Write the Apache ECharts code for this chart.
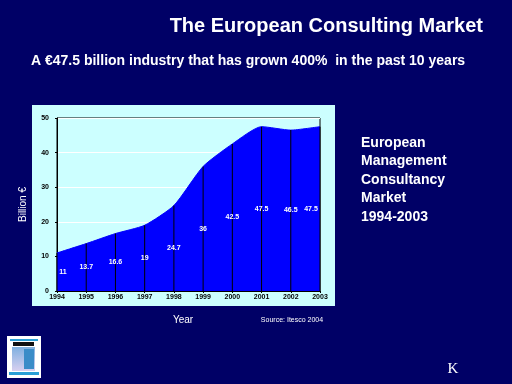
<!DOCTYPE html>
<html>
<head>
<meta charset="utf-8">
<script src="https://cdn.jsdelivr.net/npm/echarts@6/dist/echarts.min.js"></script>
<style>
html,body{margin:0;padding:0;background:#000066;}
#c{width:512px;height:384px;}
</style>
</head>
<body>
<div id="c"></div>
<script>
var years = ['1994','1995','1996','1997','1998','1999','2000','2001','2002','2003'];
var values = [11, 13.7, 16.6, 19, 24.7, 36, 42.5, 47.5, 46.5, 47.5];
var yTicks = [0, 10, 20, 30, 40, 50];
var sideLines = ['European', 'Management', 'Consultancy', 'Market', '1994-2003'];

var chart = echarts.init(document.getElementById('c'), null, {renderer:'canvas'});
var graphics = [
  {type:'rect', z:-10, shape:{x:32, y:105, width:303, height:201}, style:{fill:'#CCFFFF'}},
  {type:'text', x:483, y:26, style:{text:'The European Consulting Market', fill:'#fff', font:'bold 20px Arial', textAlign:'right', textVerticalAlign:'middle'}},
  {type:'text', x:31, y:61, style:{text:'A \u20ac47.5 billion industry that has grown 400%  in the past 10 years', fill:'#fff', font:'bold 14px Arial', textAlign:'left', textVerticalAlign:'middle'}},
  {type:'text', x:183, y:320, style:{text:'Year', fill:'#fff', font:'10px Arial', textAlign:'center', textVerticalAlign:'middle'}},
  {type:'text', x:292, y:320, style:{text:'Source: Itesco 2004', fill:'#fff', font:'7px Arial', textAlign:'center', textVerticalAlign:'middle'}},
  {type:'text', x:453, y:369, style:{text:'K', fill:'#fff', font:'15px "Liberation Serif"', textAlign:'center', textVerticalAlign:'middle'}},
  // logo
  {type:'rect', shape:{x:7, y:336, width:34, height:42}, style:{fill:'#ffffff'}},
  {type:'rect', shape:{x:10, y:339, width:28, height:2}, style:{fill:'#2a9fd6'}},
  {type:'rect', shape:{x:13, y:342, width:21, height:4}, style:{fill:'#111111'}},
  {type:'rect', shape:{x:12, y:347, width:23, height:24}, style:{fill:{type:'linear',x:0,y:0,x2:0,y2:1,colorStops:[{offset:0,color:'#7fb0e0'},{offset:1,color:'#d8d0f0'}]}}},
  {type:'rect', shape:{x:24, y:349, width:10, height:20}, style:{fill:'#3a8cc8'}},
  {type:'rect', shape:{x:9, y:372, width:30, height:3}, style:{fill:'#2a9fd6'}}
];
sideLines.forEach(function(t, i){
  graphics.push({type:'text', x:361, y:143 + i*18.5, style:{text:t, fill:'#fff', font:'bold 14px Arial', textAlign:'left', textVerticalAlign:'middle'}});
});

var last = values.length - 1;
chart.setOption({
  backgroundColor:'#000066',
  animation:false,
  grid:{left:57, right:192, top:118, bottom:93, show:true, borderColor:'#000', borderWidth:1, backgroundColor:'transparent'},
  xAxis:{type:'category', data:years, boundaryGap:false,
    axisLine:{lineStyle:{color:'#000', width:1}},
    axisTick:{show:true, length:2, lineStyle:{color:'#000'}},
    axisLabel:{color:'#000', fontSize:7, fontWeight:'bold', margin:3, interval:0},
    splitLine:{show:false}},
  yAxis:{type:'value', min:yTicks[0], max:yTicks[yTicks.length-1], interval:10,
    name:'Billion \u20ac', nameLocation:'middle', nameGap:29, nameTextStyle:{color:'#fff', fontSize:10, fontFamily:'Arial'},
    axisLine:{show:true, lineStyle:{color:'#000'}},
    axisTick:{show:true, length:2, lineStyle:{color:'#000'}},
    axisLabel:{color:'#000', fontSize:7, fontWeight:'bold', margin:8},
    splitLine:{show:true, lineStyle:{color:'#ffffff', width:1}}},
  graphic:graphics,
  series:[
    {type:'line', z:2, data:values, smooth:0.2, symbol:'none',
      lineStyle:{color:'#0000FF', width:1}, areaStyle:{color:'#0000FF', opacity:1}},
    {type:'bar', z:5, barWidth:1, clip:false, data:values,
      itemStyle:{color:'#000'},
      label:{show:true, position:'inside', color:'#fff', fontSize:7, fontWeight:'bold'},
      labelLayout:function(p){
        var o = {hideOverlap:false};
        if (p.dataIndex === 0) o.dx = 6;
        if (p.dataIndex === last) o.dx = -9;
        return o;
      }}
  ]
});
</script>
</body>
</html>
